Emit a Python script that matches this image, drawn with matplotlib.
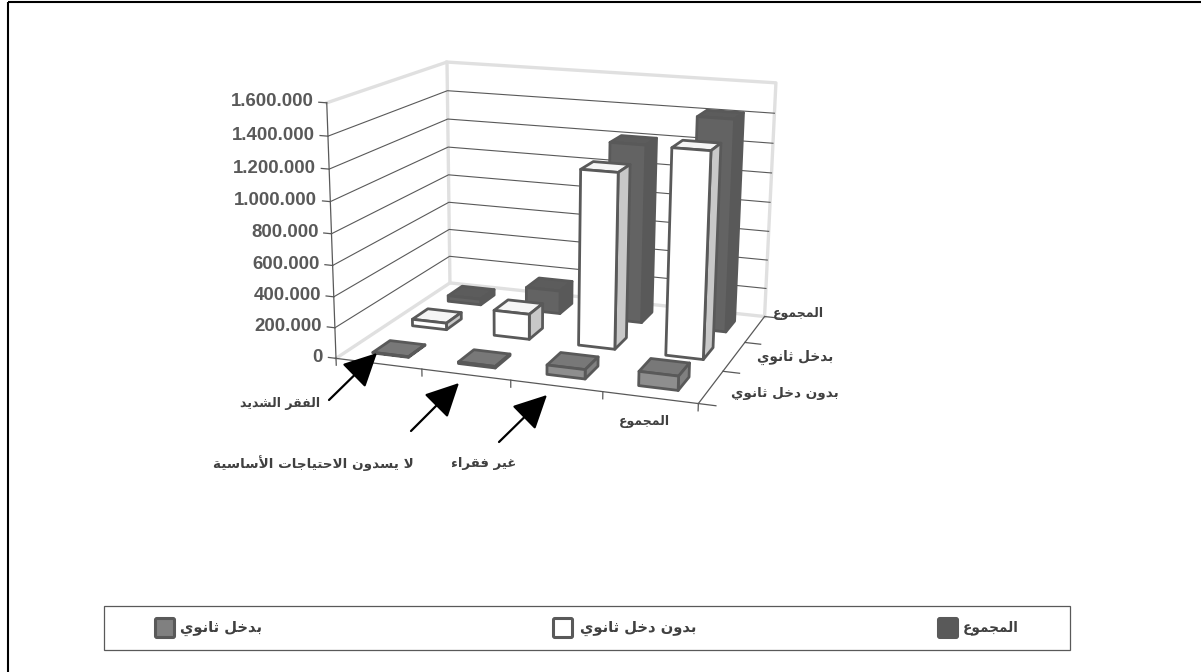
import numpy as np
import matplotlib
matplotlib.use('Agg')
from matplotlib import pyplot as plt
from matplotlib.patches import Rectangle, FancyBboxPatch
from mpl_toolkits.mplot3d.art3d import Poly3DCollection

# data
categories = ['الفقر الشديد', 'لا يسدون الاحتياجات الأساسية', 'غير فقراء', 'المجموع']
series = ['بدون دخل ثانوي', 'بدخل ثانوي', 'المجموع']
legend_labels = ['بدخل ثانوي', 'بدون دخل ثانوي', 'المجموع']
front_vals = [4000, 10000, 60000, 90000]
middle_vals = [45000, 170000, 1150000, 1330000]
back_vals = [40000, 160000, 1210000, 1420000]
z_ticks = [0, 200000, 400000, 600000, 800000, 1000000, 1200000, 1400000, 1600000]
z_labels = ['0', '200.000', '400.000', '600.000', '800.000', '1.000.000',
            '1.200.000', '1.400.000', '1.600.000']

W, H = 1201, 672
ZMAX = z_ticks[-1]

# matplotlib does no arabic shaping, so pick the presentation forms by hand
DUAL = {'ب': 0xFE8F, 'ت': 0xFE95, 'ث': 0xFE99, 'ج': 0xFE9D, 'ح': 0xFEA1, 'خ': 0xFEA5,
        'س': 0xFEB1, 'ش': 0xFEB5, 'ع': 0xFEC9, 'غ': 0xFECD, 'ف': 0xFED1, 'ق': 0xFED5,
        'ل': 0xFEDD, 'م': 0xFEE1, 'ن': 0xFEE5, 'ي': 0xFEF1}
RIGHT = {'ا': 0xFE8D, 'أ': 0xFE83, 'د': 0xFEA9, 'ر': 0xFEAD, 'و': 0xFEED, 'ة': 0xFE93}
LIG = {'لا': 0xFEFB, 'لأ': 0xFEF7}


def shape(s):
    out = []
    i = 0
    prev_joins = False
    while i < len(s):
        c = s[i]
        if s[i:i + 2] in LIG:
            out.append(chr(LIG[s[i:i + 2]] + (1 if prev_joins else 0)))
            prev_joins = False
            i += 2
            continue
        nxt = s[i + 1] if i + 1 < len(s) else ' '
        next_joins = nxt in DUAL or nxt in RIGHT
        if c in DUAL:
            out.append(chr(DUAL[c] + {(0, 0): 0, (1, 0): 1, (0, 1): 2, (1, 1): 3}[(int(prev_joins), int(next_joins))]))
            prev_joins = next_joins
        elif c in RIGHT:
            out.append(chr(RIGHT[c] + (1 if prev_joins else 0)))
            prev_joins = False
        elif c == 'ء':
            out.append(chr(0xFE80))
            prev_joins = False
        else:
            out.append(c)
            prev_joins = False
        i += 1
    return ''.join(out[::-1])


# camera: fitted so the frame of the chart lands where it is in the picture
# (x in categories, y in rows, z in millions) -> pixel
calib = [(0, 0, 0, 336, 357), (4, 0, 0, 697, 403), (4, 3, 0, 764, 317), (0, 3, 0, 450, 283),
         (0, 0, 1.6, 327, 102.7), (0, 3, 1.6, 446.7, 62), (4, 3, 1.6, 776, 83),
         (1, 0, 0, 422, 370), (2, 0, 0, 511, 381), (3, 0, 0, 602, 393),
         (4, 1, 0, 725, 370), (4, 2, 0, 745, 342)]
rows = []
for x, y, z, u, v in calib:
    rows.append([x, y, z, 1, 0, 0, 0, 0, -u * x, -u * y, -u * z, -u])
    rows.append([0, 0, 0, 0, x, y, z, 1, -v * x, -v * y, -v * z, -v])
P = np.linalg.svd(np.array(rows, dtype=float))[2][-1].reshape(3, 4)
P = P @ np.diag([1, 1, 1e-6, 1])
if P[2, 3] < 0:
    P = -P


def to_px(x, y, z):
    p = P @ np.array([x, y, z, 1.0])
    return p[0] / p[2], p[1] / p[2]


fig = plt.figure(figsize=(W / 100, H / 100), dpi=100, facecolor='white')
ax = fig.add_axes([0, 0, 1, 1], projection='3d')
ax.set_axis_off()
ax.set_proj_type('ortho')  # stops Line3D clipping, the real camera is in fitted_proj
ax.computed_zorder = False


def fitted_proj():
    # pixel (top left origin) -> display -> the 2d data space of the axes
    to_disp = np.array([[1, 0, 0], [0, -1, H], [0, 0, 1.0]])
    A = ax.transData.inverted().get_matrix() @ to_disp
    Q = A @ P
    depth = np.array([-0.05, 1, -2e-8, 0]) * abs(Q[2, 3])
    return np.array([Q[0], Q[1], depth, Q[2]])


ax.get_proj = fitted_proj

# walls and floor edges
wall = dict(color='#e0e0e0', lw=2.4, zorder=1, solid_capstyle='projecting')
ax.plot([0, 0, 0], [0, 3, 3], [ZMAX, ZMAX, 0], **wall)
ax.plot([0, 4, 4], [3, 3, 3], [ZMAX, ZMAX, 0], **wall)
ax.plot([0, 0, 4], [0, 3, 3], [0, 0, 0], **wall)

# gridlines
for z in z_ticks[1:-1]:
    ax.plot([0, 0, 4], [0, 3, 3], [z, z, z], color='#595959', lw=0.8, zorder=2)

# axis lines and tick marks
axis = dict(color='#595959', lw=0.9, zorder=3)
ax.plot([0, 0], [0, 0], [0, ZMAX], **axis)
ax.plot([0, 4, 4], [0, 0, 3], [0, 0, 0], **axis)
for z in z_ticks:
    ax.plot([-0.09, 0], [0, 0], [z, z], **axis)
for i in range(5):
    ax.plot([i, i], [0, 0], [0, -45000], **axis)
for j in range(4):
    ax.plot([4, 4.18], [j, j], [0, 0], **axis)

# bars: only front, top and right show, and those never overlap
bar_w, bar_d = 0.42, 0.42
styles = [
    (back_vals, 2, ['#636363', '#5c5c5c', '#595959']),
    (middle_vals, 1, ['#ffffff', '#f5f5f5', '#c8c8c8']),
    (front_vals, 0, ['#8e8e8e', '#787878', '#808080']),
]
order = 10
for vals, j, cols in styles:
    for i in range(3, -1, -1):
        x0, x1 = i + 0.5 - bar_w / 2, i + 0.5 + bar_w / 2
        y0, y1 = j + 0.5 - bar_d / 2, j + 0.5 + bar_d / 2
        h = vals[i]
        faces = [[(x0, y0, 0), (x1, y0, 0), (x1, y0, h), (x0, y0, h)],
                 [(x0, y0, h), (x1, y0, h), (x1, y1, h), (x0, y1, h)],
                 [(x1, y0, 0), (x1, y1, 0), (x1, y1, h), (x1, y0, h)]]
        ax.add_collection3d(Poly3DCollection(faces, facecolors=cols, edgecolors='#595959',
                                             linewidths=2.0, joinstyle='round', zorder=order))
        order += 1

# everything flat sits on a pixel overlay
ov = fig.add_axes([0, 0, 1, 1], facecolor='none')
ov.set_xlim(0, W)
ov.set_ylim(H, 0)
ov.axis('off')

# frame around the chart: only top and left reach into the picture
ov.plot([8, 8], [H, 2], color='black', lw=1.5, solid_capstyle='butt')
ov.plot([8, W], [2, 2], color='black', lw=1.5, solid_capstyle='butt')

for z, lab in zip(z_ticks, z_labels):
    u, v = to_px(0, 0, z)
    ov.text(u - 13, v - 1, lab, ha='right', va='center', fontsize=13.4, fontweight='bold',
            color='#595959', family='Liberation Sans')

ar = dict(family='DejaVu Sans', fontweight='bold', color='#404040', ha='center', va='center')
ov.text(280, 403, shape(categories[0]), fontsize=9, **ar)
ov.text(313, 463, shape(categories[1]), fontsize=9.7, **ar)
ov.text(484, 463, shape(categories[2]), fontsize=9.5, **ar)
ov.text(644, 422, shape(categories[3]), fontsize=9, **ar)
ov.text(785, 394, shape(series[0]), fontsize=9.7, **ar)
ov.text(795, 357, shape(series[1]), fontsize=9.8, **ar)
ov.text(798, 313, shape(series[2]), fontsize=9, **ar)

# arrows
arrow_tails = [(329, 400), (411, 431), (499, 442)]
arrow_tips = [(377, 353), (459, 383), (547, 395)]
for tail, tip in zip(arrow_tails, arrow_tips):
    ov.annotate('', xy=tip, xytext=tail,
                arrowprops=dict(arrowstyle='-|>,head_length=1.3,head_width=0.65', color='black',
                                lw=1.6, shrinkA=0, shrinkB=0, mutation_scale=16))

# legend
ov.add_patch(Rectangle((104, 605.5), 966, 44, fc='white', ec='#595959', lw=0.9))
swatches = [(155.5, '#808080', 180, 10.6), (553.5, '#ffffff', 580, 10.6), (938.5, '#595959', 963, 9.8)]
for (sx, col, tx, fs), lab in zip(swatches, legend_labels):
    ov.add_patch(FancyBboxPatch((sx, 618.5), 19, 19, boxstyle='round,pad=0,rounding_size=1.5',
                                fc=col, ec='#595959', lw=2.2))
    ov.text(tx, 628, shape(lab), family='DejaVu Sans', fontweight='bold', color='#404040',
            fontsize=fs, ha='left', va='center')

fig.savefig('out.png', dpi=100)
